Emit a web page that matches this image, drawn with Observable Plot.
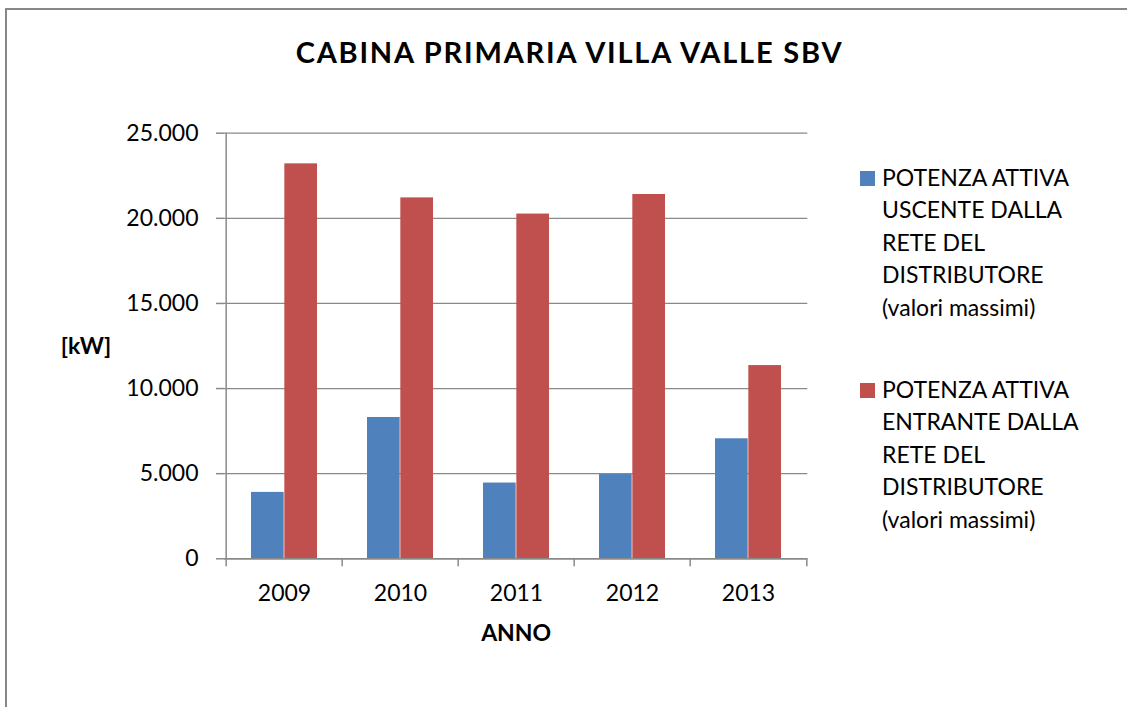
<!DOCTYPE html>
<html>
<head>
<meta charset="utf-8">
<script src="https://cdn.jsdelivr.net/npm/d3@7"></script>
<script src="https://cdn.jsdelivr.net/npm/@observablehq/plot@0.6"></script>
<style>
  html, body { margin: 0; padding: 0; background: #fff; overflow: hidden; }
  #page { position: relative; width: 1127px; height: 707px; overflow: hidden; font-family: Lato, "Open Sans", sans-serif; }
  #frame { position: absolute; left: 5px; top: 8px; width: 1200px; height: 800px; border-top: 2px solid #878787; border-left: 2px solid #878787; box-sizing: border-box; }
  #title { position: absolute; left: 0; width: 1139px; top: 35px; text-align: center; font-weight: 700; font-size: 29px; letter-spacing: 1.8px; line-height: 1.2; color: #000; white-space: nowrap; }
  #chart { position: absolute; left: 0; top: 0; }
  .legend { position: absolute; left: 860px; font-size: 23px; line-height: 32.5px; color: #000; }
  .legend .sw { position: absolute; left: 0; width: 15px; height: 15px; }
  .legend .tx { position: absolute; left: 22px; white-space: nowrap; }
</style>
</head>
<body>
<div id="page">
  <div id="frame"></div>
  <div id="title"></div>
  <div id="chart"></div>
  <div id="legend"></div>
</div>
<script>
// ---- data ----
const title = "CABINA PRIMARIA VILLA VALLE SBV";
const years = ["2009", "2010", "2011", "2012", "2013"];
const uscente = [3900, 8300, 4450, 4950, 7050];     // blue
const entrante = [23200, 21200, 20250, 21400, 11350]; // red
const seriesNames = [
  "POTENZA ATTIVA\nUSCENTE DALLA\nRETE DEL\nDISTRIBUTORE\n(valori massimi)",
  "POTENZA ATTIVA\nENTRANTE DALLA\nRETE DEL\nDISTRIBUTORE\n(valori massimi)"
];
const seriesColors = ["#4F81BD", "#C0504D"];
const yTicks = [0, 5000, 10000, 15000, 20000, 25000];
const yLabel = "[kW]";
const xLabel = "ANNO";

// ---- layout ----
const W = 1127, H = 707;
const mL = 224, mR = W - 807.3, mT = 132.7, mB = H - 558.3;
const step = (W - mL - mR) / years.length;
const gapHalf = step * 0.2143;
const half = step / 2;
const gridColor = "#8a8a8a";

const rowsU = years.map((y, i) => ({year: y, value: uscente[i]}));
const rowsE = years.map((y, i) => ({year: y, value: entrante[i]}));
const fmt = d => d3.format(",")(d).replace(/,/g, ".");

document.getElementById("title").textContent = title;

const chart = Plot.plot({
  width: W, height: H,
  marginLeft: mL, marginRight: mR, marginTop: mT, marginBottom: mB,
  style: {background: "transparent", fontFamily: "Lato, 'Open Sans', sans-serif", fontSize: "23px", color: "#000", overflow: "visible"},
  x: {domain: years, padding: 0, axis: null},
  y: {domain: [0, 25000], axis: null},
  marks: [
    Plot.gridY(yTicks, {stroke: gridColor, strokeOpacity: 1, strokeWidth: 1.2}),
    Plot.barY(rowsU, {x: "year", y: "value", fill: seriesColors[0], insetLeft: gapHalf, insetRight: half}),
    Plot.barY(rowsE, {x: "year", y: "value", fill: seriesColors[1], insetLeft: half, insetRight: gapHalf}),
    // x axis line
    Plot.ruleY([0], {stroke: gridColor, strokeWidth: 1.5}),
    // left axis line (at left boundary of first category)
    Plot.ruleX(years.slice(0, 1), {x: d => d, y1: 0, y2: 25000, dx: -half, stroke: gridColor, strokeWidth: 1.5}),
    // category boundary tick marks
    Plot.ruleX(years, {x: d => d, y1: 0, y2: 0, dx: -half, insetBottom: -8, stroke: gridColor, strokeWidth: 1.5}),
    Plot.ruleX(years.slice(-1), {x: d => d, y1: 0, y2: 0, dx: half, insetBottom: -8, stroke: gridColor, strokeWidth: 1.5}),
    // y axis ticks and labels
    Plot.axisY(yTicks, {tickSize: 8, tickPadding: 18, tickFormat: fmt, stroke: gridColor, strokeWidth: 1.5, fontSize: 23, fill: "#000", label: null}),
    // x axis labels
    Plot.axisX({tickSize: 0, tickPadding: 26, fontSize: 23, fill: "#000", label: null}),
    // axis titles
    Plot.text([yLabel], {frameAnchor: "left", dx: -138.5, dy: 1, text: d => d, textAnchor: "middle", fontWeight: "bold", fontSize: 23, fill: "#000"}),
    Plot.text([xLabel], {frameAnchor: "bottom", dy: 82, text: d => d, textAnchor: "middle", fontWeight: "bold", fontSize: 23, fill: "#000"})
  ]
});
document.getElementById("chart").appendChild(chart);

// legend
const legend = document.getElementById("legend");
const legendTops = [160.5, 372.8];
seriesNames.forEach((name, i) => {
  const g = document.createElement("div");
  g.className = "legend";
  g.style.top = legendTops[i] + "px";
  const sw = document.createElement("div");
  sw.className = "sw";
  sw.style.background = seriesColors[i];
  sw.style.top = "10.2px";
  const tx = document.createElement("div");
  tx.className = "tx";
  tx.innerHTML = name.split("\n").map(s => s.replace(/&/g, "&amp;").replace(/</g, "&lt;")).join("<br>");
  g.appendChild(sw); g.appendChild(tx);
  legend.appendChild(g);
});
</script>
</body>
</html>
